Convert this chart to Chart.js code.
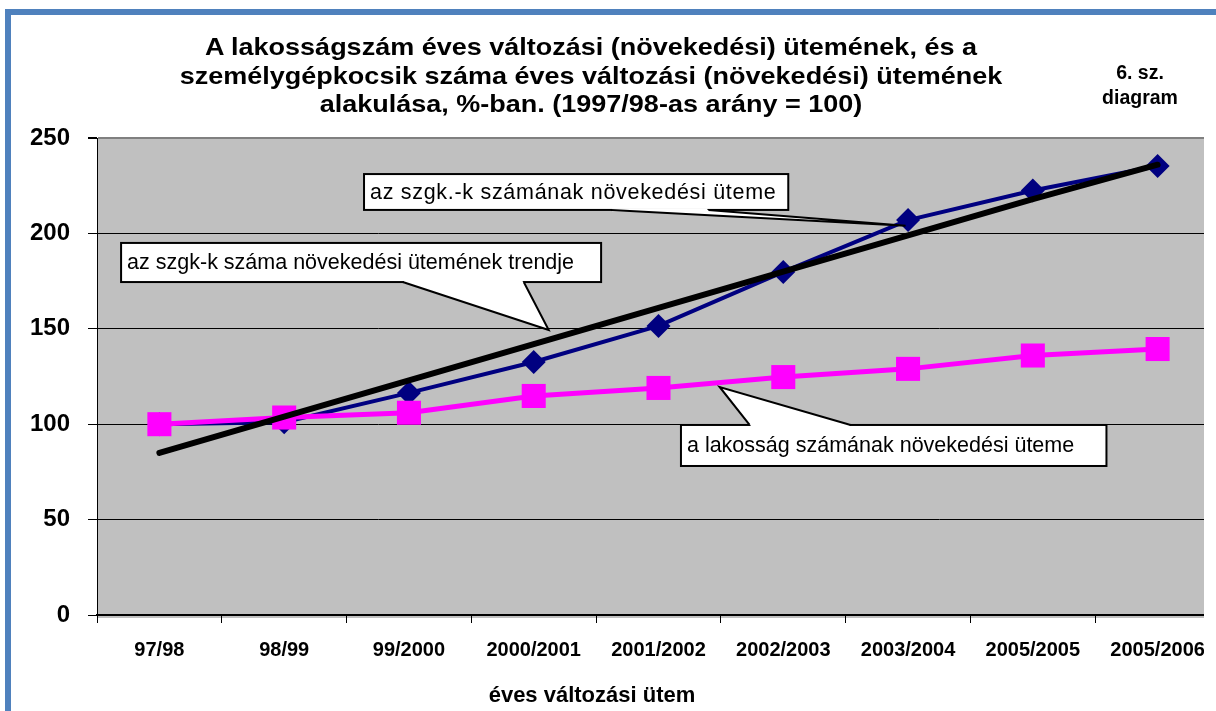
<!DOCTYPE html>
<html><head><meta charset="utf-8">
<script src="https://cdn.jsdelivr.net/npm/chart.js@4.4.1/dist/chart.umd.min.js"></script>
<style>
html,body{margin:0;padding:0;background:#fff;width:1216px;height:711px;overflow:hidden;}
#wrap{position:absolute;left:0;top:0;width:1204px;height:711px;overflow:hidden;}
#inner{position:absolute;left:0;top:0;width:1222px;height:711px;}
#c{display:block;width:1222px;height:711px;}
#frameTop{position:absolute;left:5px;top:9px;width:1211px;height:6px;background:#4F81BD;z-index:5;}
#frameLeft{position:absolute;left:5px;top:9px;width:6px;height:702px;background:#4F81BD;z-index:5;}
.t{position:absolute;font-family:'Liberation Sans',Arial,sans-serif;font-weight:bold;color:#000;text-align:center;z-index:4;white-space:nowrap;}
#title{left:0;width:1182px;top:33px;font-size:24px;line-height:28.5px;transform:scaleX(1.125);transform-origin:591px 0;}
#note{left:1090px;width:100px;top:60px;font-size:19.5px;line-height:25px;}
#xtitle{left:392px;width:400px;top:682px;font-size:22px;line-height:26px;}
</style>
</head><body>
<div id="frameTop"></div><div id="frameLeft"></div>
<div class="t" id="title">A lakosságszám éves változási (növekedési) ütemének, és a<br>személygépkocsik száma éves változási (növekedési) ütemének<br>alakulása, %-ban. (1997/98-as arány = 100)</div>
<div class="t" id="note">6. sz.<br>diagram</div>
<div class="t" id="xtitle">éves változási ütem</div>
<div id="wrap"><div id="inner"><canvas id="c" width="1222" height="711"></canvas></div></div>
<script>
const categories = ['97/98','98/99','99/2000','2000/2001','2001/2002','2002/2003','2003/2004','2005/2005','2005/2006'];
const carGrowth = [100, 101, 116.4, 132.6, 151.5, 179.8, 207, 222.5, 235.3];
const populationGrowth = [100, 103.5, 106, 114.8, 119, 124.7, 129, 136, 139.4];
const carTrend = [85, 104, 123, 142, 161, 180, 199, 218, 236];
const yTicks = [0, 50, 100, 150, 200, 250];

const callouts = [
  {text:'az szgk.-k számának növekedési üteme', box:[1.64,231.1,5.04,212.3], side:'bottom', base:[3.62,4.40], tip:[5.98,204], spacing:0.7},
  {text:'az szgk-k száma növekedési ütemének trendje', box:[-0.307,195.0,3.54,174.5], side:'bottom', base:[1.95,2.92], tip:[3.12,149.4], spacing:0},
  {text:'a lakosság számának növekedési üteme', box:[4.18,99.6,7.59,78.1], side:'top', base:[4.73,5.54], tip:[4.49,119.5], spacing:0}
];

const FONT = "'Liberation Sans', Arial, sans-serif";

const plotBg = {
  id:'plotBg',
  beforeDraw(chart){
    const a = chart.chartArea, ctx = chart.ctx;
    ctx.save();
    ctx.fillStyle = '#C0C0C0';
    ctx.fillRect(a.left, a.top, a.right - a.left, a.bottom - a.top + 3);
    ctx.restore();
  }
};

const calloutPlugin = {
  id:'callouts',
  afterDatasetsDraw(chart){
    const xs = chart.scales.x, ys = chart.scales.y, ctx = chart.ctx;
    callouts.forEach(c => {
      const L = xs.getPixelForValue(c.box[0]), T = ys.getPixelForValue(c.box[1]);
      const R = xs.getPixelForValue(c.box[2]), B = ys.getPixelForValue(c.box[3]);
      const ey = c.side === 'bottom' ? B : T;
      const b0 = xs.getPixelForValue(c.base[0]), b1 = xs.getPixelForValue(c.base[1]);
      const tx = xs.getPixelForValue(c.tip[0]), ty = ys.getPixelForValue(c.tip[1]);
      ctx.save();
      ctx.fillStyle = '#fff'; ctx.strokeStyle = '#000'; ctx.lineWidth = 2;
      ctx.fillRect(L, T, R - L, B - T);
      ctx.strokeRect(L, T, R - L, B - T);
      ctx.beginPath(); ctx.moveTo(b0, ey); ctx.lineTo(tx, ty); ctx.lineTo(b1, ey); ctx.closePath(); ctx.fill();
      ctx.fillRect(b0 + 1, ey - 1.5, b1 - b0 - 2, 3);
      ctx.beginPath(); ctx.moveTo(b0, ey); ctx.lineTo(tx, ty); ctx.lineTo(b1, ey); ctx.stroke();
      ctx.fillStyle = '#000';
      ctx.font = '21.5px ' + FONT;
      if ('letterSpacing' in ctx) ctx.letterSpacing = c.spacing + 'px';
      ctx.textBaseline = 'middle';
      ctx.textAlign = 'left';
      ctx.fillText(c.text, L + 6, (T + B) / 2 + 1);
      ctx.restore();
    });
  }
};

new Chart(document.getElementById('c'), {
  type:'line',
  data:{
    labels: categories,
    datasets:[
      {label:'az szgk-k száma növekedési ütemének trendje', data: carTrend, borderColor:'#000', borderWidth:6, pointRadius:0, borderCapStyle:'round', tension:0, order:0},
      {label:'a lakosság számának növekedési üteme', data: populationGrowth, borderColor:'#FF00FF', backgroundColor:'#FF00FF', borderWidth:5, pointStyle:'rect', pointRadius:17, pointBorderWidth:0, pointBackgroundColor:'#FF00FF', tension:0, order:1},
      {label:'az szgk.-k számának növekedési üteme', data: carGrowth, borderColor:'#000080', backgroundColor:'#000080', borderWidth:4, pointStyle:'rectRot', pointRadius:12, pointBorderWidth:0, pointBackgroundColor:'#000080', tension:0, order:2}
    ]
  },
  options:{
    responsive:false, devicePixelRatio:1, animation:false,
    layout:{autoPadding:false, padding:{top:138, right:2, left:0, bottom:0}},
    plugins:{legend:{display:false}, tooltip:{enabled:false}, title:{display:false}},
    scales:{
      x:{
        offset:true,
        grid:{offset:true, drawOnChartArea:false, drawTicks:true, tickLength:8, color:'#000', lineWidth:1},
        border:{display:true, color:'#000', width:2},
        ticks:{autoSkip:false, maxRotation:0, padding:15, color:'#000', font:{family:FONT, size:20, weight:'bold'}},
        afterFit(s){ s.height = 96; s.paddingLeft = 0; s.paddingRight = 0; }
      },
      y:{
        min:0, max:250,
        afterBuildTicks(s){ s.ticks = yTicks.map(v => ({value:v})); },
        grid:{
          color:(ctx) => ctx.tick && ctx.tick.value === 250 ? '#808080' : '#000',
          lineWidth:(ctx) => ctx.tick && ctx.tick.value === 250 ? 2 : 1,
          tickColor:'#000', tickLength:9, drawTicks:true
        },
        border:{display:true, color:'#000', width:1},
        ticks:{padding:18, color:'#000', font:{family:FONT, size:24, weight:'bold'}},
        afterFit(s){ s.width = 97; }
      }
    }
  },
  plugins:[plotBg, calloutPlugin]
});
</script>
</body></html>
